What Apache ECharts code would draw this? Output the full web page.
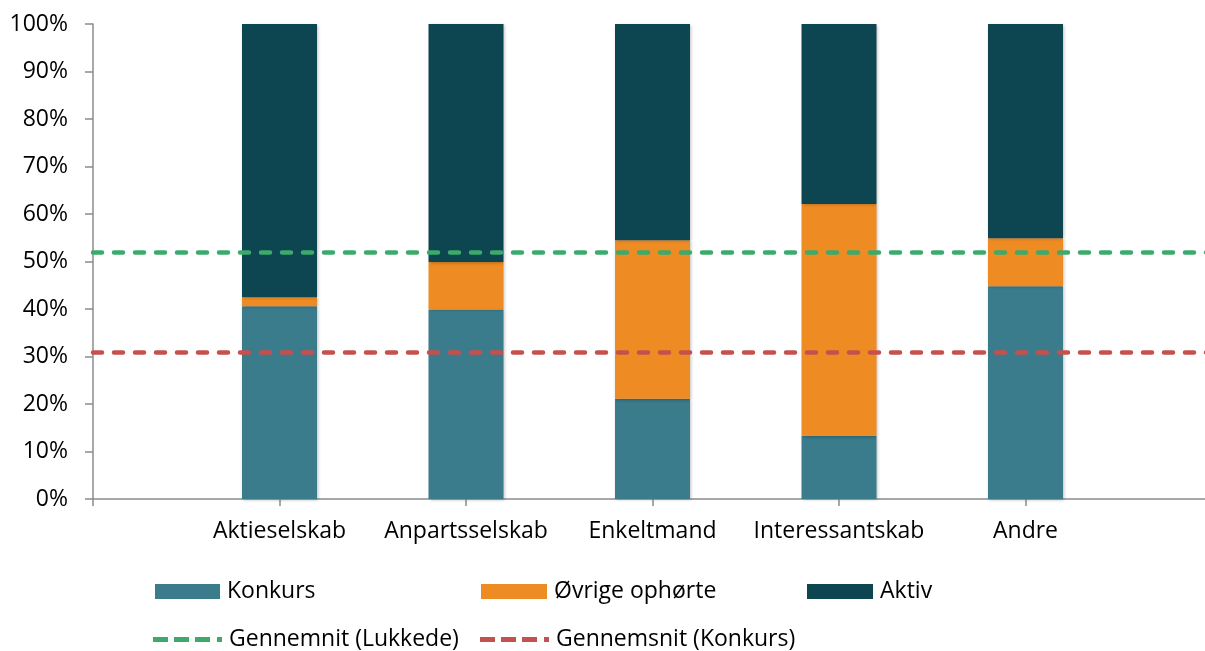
<!DOCTYPE html>
<html>
<head>
<meta charset="utf-8">
<script src="https://cdn.jsdelivr.net/npm/echarts@6/dist/echarts.min.js"></script>
<style>
  html, body { margin: 0; padding: 0; background: #fff; }
  #chart { width: 1205px; height: 651px; }
</style>
</head>
<body>
<div id="chart"></div>
<script>
// kategorier (tomme pladser i begge ender, som i Excel-figuren)
const categories = ["", "Aktieselskab", "Anpartsselskab", "Enkeltmand", "Interessantskab", "Andre", ""];
// andele i procent
const konkurs = ["-", 40.6, 39.9, 21.1, 13.3, 44.8, "-"];
const ovrige = ["-", 1.9, 10.0, 33.4, 48.8, 10.1, "-"];
const aktiv = ["-", 57.5, 50.1, 45.5, 37.9, 45.1, "-"];
// gennemsnit
const gnsLukkede = 52;
const gnsKonkurs = 31;
const yTicks = [0, 10, 20, 30, 40, 50, 60, 70, 80, 90, 100];

const font = "Open Sans";
const fontSize = 23;
const barShadow = {
  shadowBlur: 3,
  shadowColor: "rgba(0,0,0,0.25)",
  shadowOffsetX: 1,
  shadowOffsetY: 1
};
// streg-ikon til legenden: tre streger og en prik
const dashIcon = "path://M0,0H15V5H0Z M21,0H36V5H21Z M42,0H57V5H42Z M64,0H69V5H64Z";

let mychart = echarts.init(document.getElementById("chart"));

function barSerie(name, data, color) {
  return {
    name: name,
    type: "bar",
    stack: "total",
    barWidth: 75,
    data: data,
    itemStyle: Object.assign({ color: color }, barShadow)
  };
}

function avgSerie(name, value, color) {
  return {
    name: name,
    type: "line",
    data: [],
    symbol: "none",
    lineStyle: { color: color },
    itemStyle: { color: color },
    markLine: {
      silent: true,
      symbol: "none",
      label: { show: false },
      lineStyle: { color: color, width: 4.5, type: [9, 12], cap: "round" },
      data: [{ yAxis: value }]
    },
    z: 5
  };
}

const legendText = { fontFamily: font, fontSize: fontSize, color: "#000", padding: [0, 0, 0, 2] };
function legendAt(name, left, top, w, h, icon) {
  return {
    data: [{ name: name, icon: icon || "rect" }],
    left: left,
    top: top,
    padding: 0,
    itemWidth: w,
    itemHeight: h,
    itemGap: 0,
    selectedMode: false,
    textStyle: legendText
  };
}

mychart.setOption({
  animation: false,
  grid: { left: 93, width: 1119, top: 24, bottom: 152, outerBoundsMode: "none" },
  legend: [
    legendAt("Konkurs", 155, 580, 65, 15),
    legendAt("Øvrige ophørte", 481, 580, 66, 15),
    legendAt("Aktiv", 807, 580, 66, 15),
    legendAt("Gennemnit (Lukkede)", 153, 628, 69, 5, dashIcon),
    legendAt("Gennemsnit (Konkurs)", 480, 628, 69, 5, dashIcon)
  ],
  xAxis: {
    type: "category",
    data: categories,
    boundaryGap: false,
    axisLine: { lineStyle: { color: "#8c8c8c", width: 1.5 } },
    axisTick: { show: true, length: 7, lineStyle: { color: "#8c8c8c", width: 1.5 } },
    axisLabel: { fontFamily: font, fontSize: fontSize, color: "#000", margin: 21, interval: 0 },
    splitLine: { show: false }
  },
  yAxis: {
    type: "value",
    min: yTicks[0],
    max: yTicks[yTicks.length - 1],
    interval: 10,
    axisLine: { show: true, lineStyle: { color: "#8c8c8c", width: 1.5 } },
    axisTick: { show: true, length: 8, lineStyle: { color: "#8c8c8c", width: 1.5 } },
    axisLabel: { fontFamily: font, fontSize: fontSize, color: "#000", margin: 25, formatter: "{value}%" },
    splitLine: { show: false }
  },
  series: [
    barSerie("Konkurs", konkurs, "#3a7b8c"),
    barSerie("Øvrige ophørte", ovrige, "#ee8b22"),
    barSerie("Aktiv", aktiv, "#0d4551"),
    avgSerie("Gennemnit (Lukkede)", gnsLukkede, "#3daa6c"),
    avgSerie("Gennemsnit (Konkurs)", gnsKonkurs, "#c5504e")
  ]
});
</script>
</body>
</html>
